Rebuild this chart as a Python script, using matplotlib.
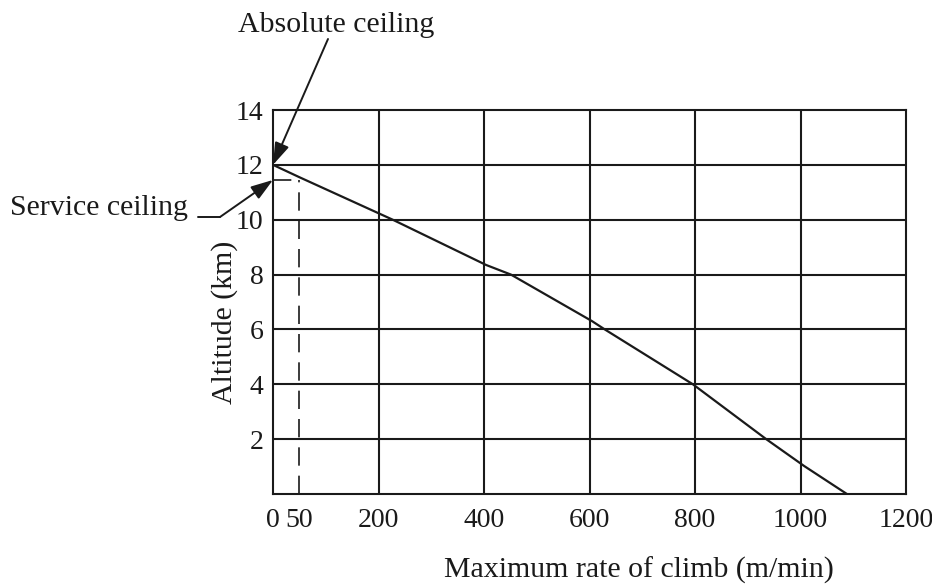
import matplotlib
matplotlib.use("Agg")
import matplotlib.pyplot as plt

# ==========================================================
# Data
# ==========================================================

rate_of_climb = [0, 50, 227, 404, 451, 605, 629, 796, 935, 1007, 1088]   # m/min
altitude = [12.0, 11.55, 10.0, 8.35, 8.0, 6.3, 6.0, 4.0, 2.0, 1.02, 0.0]  # km

service_rate = 50
service_altitude = 11.45
absolute_altitude = 12.0

x_ticks = [0, 50, 200, 400, 600, 800, 1000, 1200]
y_ticks = [2, 4, 6, 8, 10, 12, 14]
x_grid = [200, 400, 600, 800, 1000]
y_grid = [2, 4, 6, 8, 10, 12]

# ==========================================================
# Style
# ==========================================================

plt.rcParams["font.family"] = ["Liberation Serif", "DejaVu Serif"]
FS_TICK = 20
FS_TEXT = 21.5
INK = "#1a1a1a"

fig = plt.figure(figsize=(9.32, 5.85), dpi=100)
ax = fig.add_axes([273 / 932, 91 / 585, 633 / 932, 384 / 585])

# grid
for gx in x_grid:
    ax.axvline(gx, color=INK, lw=1.5, zorder=1)
for gy in y_grid:
    ax.axhline(gy, color=INK, lw=1.5, zorder=1)

# curve
ax.plot(rate_of_climb, altitude, color=INK, lw=1.6, zorder=3)

# service ceiling dashes
ax.plot([service_rate, service_rate], [0, service_altitude],
        color=INK, lw=1.2, ls=(0, (11, 6)), zorder=2)
ax.plot([0, service_rate], [service_altitude, service_altitude],
        color=INK, lw=1.2, ls=(0, (11, 6)), zorder=2)

ax.set_xlim(0, 1200)
ax.set_ylim(0, 14)
ax.set_xticks(x_ticks)
ax.set_yticks(y_ticks)
ax.tick_params(axis="both", length=0, labelsize=FS_TICK, colors=INK)
ax.tick_params(axis="x", pad=10)
ax.tick_params(axis="y", pad=7)
for s in ax.spines.values():
    s.set_linewidth(1.5)
    s.set_color(INK)

ax.set_xlabel("Maximum rate of climb (m/min)", fontsize=FS_TEXT, color=INK)
ax.xaxis.set_label_coords(0.578, -0.162)
ax.set_ylabel("Altitude (km)", fontsize=FS_TEXT, color=INK)
ax.yaxis.set_label_coords(-0.055, 0.448)

# ==========================================================
# Annotations
# ==========================================================

arrow = dict(arrowstyle="-|>,head_length=0.9,head_width=0.3",
             mutation_scale=15, color=INK, lw=1.4, shrinkA=0, shrinkB=0)

fig.text(336 / 932, 1 - 25 / 585, "Absolute ceiling", fontsize=FS_TEXT,
         color=INK, ha="center", va="center")
ax.annotate("", xy=(0, absolute_altitude), xycoords="data",
            xytext=(328, 546), textcoords="figure pixels",
            arrowprops=arrow, annotation_clip=False)

fig.text(10 / 932, 1 - 208 / 585, "Service ceiling", fontsize=FS_TEXT,
         color=INK, ha="left", va="center")
ax.annotate("", xy=(220, 368), xycoords="figure pixels",
            xytext=(198, 368), textcoords="figure pixels",
            arrowprops=dict(arrowstyle="-", color=INK, lw=1.4,
                            shrinkA=0, shrinkB=0),
            annotation_clip=False)
ax.annotate("", xy=(0, service_altitude), xycoords="data",
            xytext=(220, 368), textcoords="figure pixels",
            arrowprops=arrow, annotation_clip=False)

fig.savefig("out.png", dpi=100, facecolor="white")
